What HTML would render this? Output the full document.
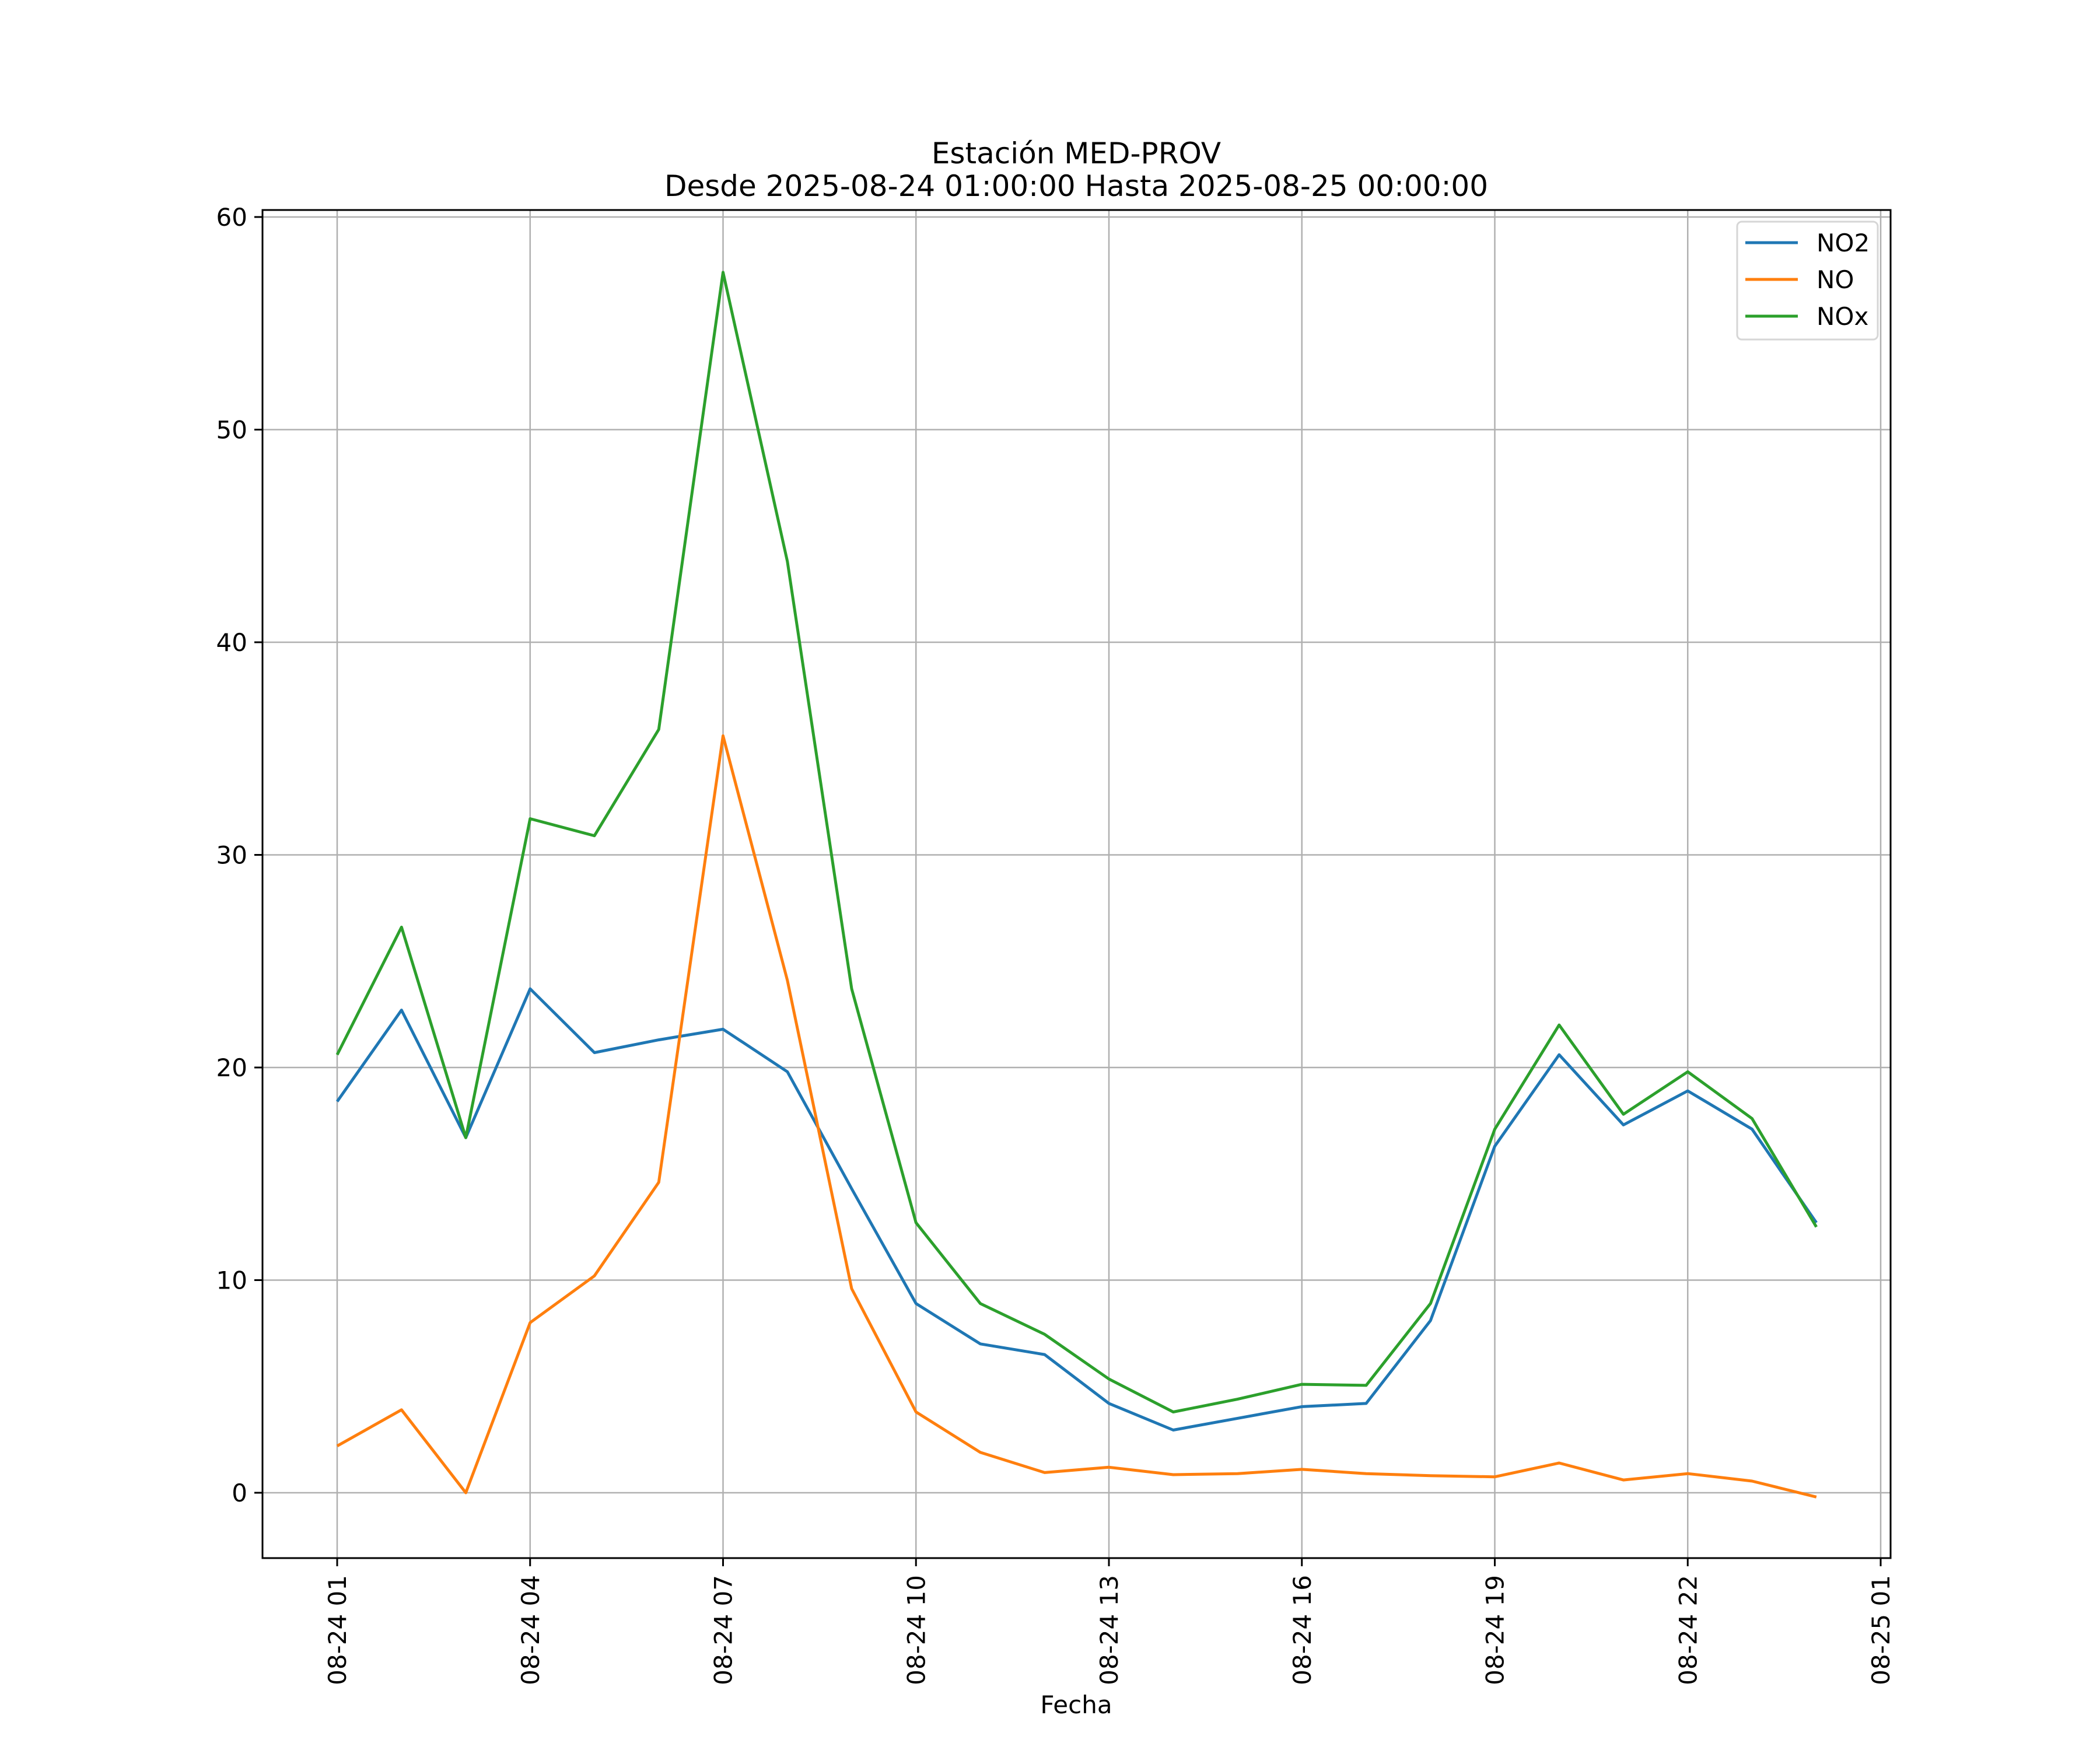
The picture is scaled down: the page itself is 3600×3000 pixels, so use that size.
<!DOCTYPE html>
<html><head><meta charset="utf-8"><style>
html,body{margin:0;padding:0;background:#fff;}
svg{display:block;font-family:"DejaVu Sans","Liberation Sans",sans-serif;}
</style></head><body>
<svg id="chart" width="3600" height="3000" viewBox="0 0 3600 3000" xmlns="http://www.w3.org/2000/svg">
<rect width="3600" height="3000" fill="#fff"/>
<text x="1845" y="280" font-size="50" text-anchor="middle">Estación MED-PROV</text>
<text x="1845" y="336" font-size="50" text-anchor="middle">Desde 2025-08-24 01:00:00 Hasta 2025-08-25 00:00:00</text>
<g id="grid"></g>
<g id="series"></g>
<rect x="450" y="360" width="2791" height="2311" fill="none" stroke="#000" stroke-width="3"/>
<g id="ticks"></g>
<text x="1845" y="2937" font-size="42" text-anchor="middle">Fecha</text>
<g>
<rect x="2978" y="380" width="241" height="202" rx="8" fill="#fff" fill-opacity="0.8" stroke="#d6d6d6" stroke-width="3"/>
<line x1="2992" y1="416" x2="3082" y2="416" stroke="#1f77b4" stroke-width="5"/>
<text x="3114" y="431" font-size="42">NO2</text>
<line x1="2992" y1="479" x2="3082" y2="479" stroke="#ff7f0e" stroke-width="5"/>
<text x="3114" y="494" font-size="42">NO</text>
<line x1="2992" y1="542" x2="3082" y2="542" stroke="#2ca02c" stroke-width="5"/>
<text x="3114" y="557" font-size="42">NOx</text>
</g>
</svg>
<script>
const hours = [0,1,2,3,4,5,6,7,8,9,10,11,12,13,14,15,16,17,18,19,20,21,22,23];
const no2 = [18.4,22.7,16.7,23.7,20.7,21.3,21.8,19.8,14.3,8.9,7.0,6.5,4.2,2.95,3.5,4.05,4.2,8.1,16.3,20.6,17.3,18.9,17.1,12.7];
const no = [2.2,3.9,0,8.0,10.2,14.6,35.6,24.1,9.6,3.8,1.9,0.95,1.2,0.85,0.9,1.1,0.9,0.8,0.75,1.4,0.6,0.9,0.55,-0.2];
const nox = [20.6,26.6,16.7,31.7,30.9,35.9,57.4,43.8,23.7,12.7,8.9,7.45,5.35,3.8,4.4,5.1,5.05,8.9,17.1,22.0,17.8,19.8,17.6,12.5];
const yTicks = [0,10,20,30,40,50,60];
const xTickHours = [0,3,6,9,12,15,18,21,24];
const xTickLabels = ["08-24 01","08-24 04","08-24 07","08-24 10","08-24 13","08-24 16","08-24 19","08-24 22","08-25 01"];

const NS = "http://www.w3.org/2000/svg";
const xs = h => 578 + h * 110.25;
const ys = v => 2559 - v * 36.45;
const grid = document.getElementById('grid');
const ticks = document.getElementById('ticks');
const series = document.getElementById('series');
function mk(tag, attrs, parent){const e=document.createElementNS(NS,tag);for(const k in attrs)e.setAttribute(k,attrs[k]);parent.appendChild(e);return e;}

yTicks.forEach(v=>{
  const g = mk('line',{x1:450,x2:3241,y1:ys(v),y2:ys(v),stroke:'#b0b0b0','stroke-width':2.5},grid);
  
  
  const t = mk('line',{x1:436,x2:450,y1:ys(v),y2:ys(v),stroke:'#000','stroke-width':3},ticks);
  
  
  const l = mk('text',{x:424,y:ys(v)+15,'font-size':42,'text-anchor':'end'},ticks);
  l.textContent = v;
  
  
});
xTickHours.forEach((h,i)=>{
  const g = mk('line',{x1:xs(h),x2:xs(h),y1:360,y2:2671,stroke:'#b0b0b0','stroke-width':2.5},grid);
  
  
  const t = mk('line',{x1:xs(h),x2:xs(h),y1:2671,y2:2685,stroke:'#000','stroke-width':3},ticks);
  
  
  const l = mk('text',{x:0,y:0,'font-size':42,'text-anchor':'end',transform:`translate(${xs(h)+15},2700) rotate(-90)`},ticks);
  l.textContent = xTickLabels[i];
  
  
});
[[no2,'#1f77b4','line-no2'],[no,'#ff7f0e','line-no'],[nox,'#2ca02c','line-nox']].forEach(([d,c,n])=>{
  const pts = d.map((v,i)=>xs(hours[i]).toFixed(1)+','+ys(v).toFixed(1)).join(' ');
  const p = mk('polyline',{points:pts,fill:'none',stroke:c,'stroke-width':5,'stroke-linejoin':'round'},series);
  
  
});
</script>
</body></html>
